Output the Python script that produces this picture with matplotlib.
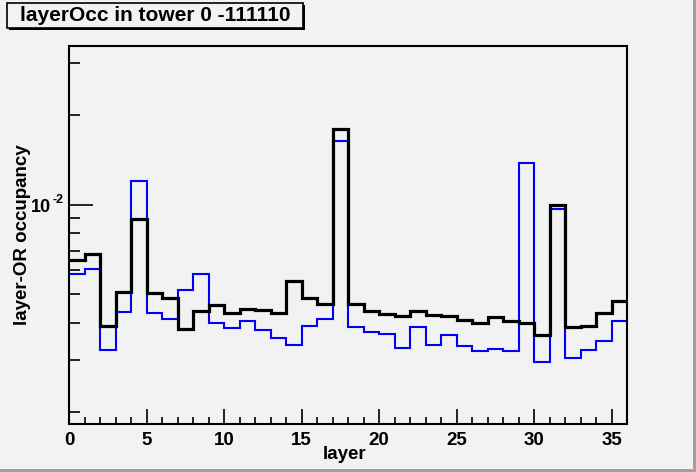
import matplotlib
matplotlib.use("Agg")
import matplotlib.pyplot as plt
from matplotlib.patches import Rectangle
from matplotlib.ticker import FixedLocator, NullFormatter, MultipleLocator
import numpy as np

plt.rcParams['font.family'] = ['Liberation Sans', 'DejaVu Sans']
plt.rcParams['font.weight'] = 'bold'

title = "layerOcc in tower 0 -111110"
x_label = "layer"
y_label = "layer-OR occupancy"

edges = np.arange(0, 37)

# layer-OR occupancy per layer (black: all, blue: second set)
occ_black = [6.50e-3, 6.80e-3, 3.89e-3, 5.07e-3, 8.94e-3, 5.02e-3, 4.83e-3, 3.82e-3,
             4.39e-3, 4.59e-3, 4.31e-3, 4.45e-3, 4.41e-3, 4.31e-3, 5.53e-3, 4.83e-3,
             4.62e-3, 1.79e-2, 4.62e-3, 4.38e-3, 4.28e-3, 4.20e-3, 4.38e-3, 4.25e-3,
             4.20e-3, 4.09e-3, 3.99e-3, 4.17e-3, 4.05e-3, 4.00e-3, 3.64e-3, 1.00e-2,
             3.86e-3, 3.89e-3, 4.31e-3, 4.72e-3]
occ_blue = [5.82e-3, 6.07e-3, 3.25e-3, 4.36e-3, 1.20e-2, 4.31e-3, 4.13e-3, 5.15e-3,
            5.85e-3, 4.00e-3, 3.85e-3, 4.06e-3, 3.79e-3, 3.56e-3, 3.37e-3, 3.90e-3,
            4.12e-3, 1.64e-2, 3.88e-3, 3.73e-3, 3.67e-3, 3.30e-3, 3.87e-3, 3.36e-3,
            3.64e-3, 3.34e-3, 3.22e-3, 3.27e-3, 3.22e-3, 1.38e-2, 2.95e-3, 9.63e-3,
            3.05e-3, 3.24e-3, 3.48e-3, 4.06e-3]

bg = '#f2f2f2'
fig = plt.figure(figsize=(6.96, 4.72), dpi=100, facecolor=bg)
ax = fig.add_axes([69/696, 1 - 424/472, 558/696, 378/472])
ax.set_facecolor(bg)

ax.stairs(occ_blue, edges, color='#0000ff', linewidth=1.5, baseline=None)
ax.stairs(occ_black, edges, color='black', linewidth=2.3, baseline=None)

ax.set_yscale('log')
ax.set_xlim(0, 36)
ax.set_ylim(1.824e-3, 3.42e-2)

ax.xaxis.set_major_locator(MultipleLocator(5))
ax.xaxis.set_minor_locator(MultipleLocator(1))
ax.yaxis.set_major_locator(FixedLocator([1e-2]))
ax.yaxis.set_minor_locator(FixedLocator([k * 1e-3 for k in range(2, 10)] + [2e-2, 3e-2]))
ax.yaxis.set_minor_formatter(NullFormatter())
ax.set_yticklabels([''])

ax.tick_params(which='both', direction='in', top=False, right=False, width=1.2,
               labelsize=13.5, color='black')
ax.tick_params(axis='x', which='major', length=11, pad=6)
ax.tick_params(axis='x', which='minor', length=5)
ax.tick_params(axis='y', which='major', length=17, pad=2)
ax.tick_params(axis='y', which='minor', length=8)
for lab in ax.get_xticklabels():
    lab.set_fontweight('bold')

# 10^-2 label drawn by hand, ROOT style
fig.text(51.5/696, 1 - 207/472, "10", ha='right', va='center', fontsize=13, fontweight='bold')
fig.text(52/696, 1 - 200/472, "-2", ha='left', va='center', fontsize=9, fontweight='bold')

for s in ax.spines.values():
    s.set_linewidth(1.5)

ax.set_xlabel(x_label, fontsize=13.5, fontweight='bold')
ax.xaxis.set_label_coords((345 - 69) / 558, -(446 - 424) / 378)
ax.set_ylabel(y_label, fontsize=13.5, fontweight='bold')
ax.yaxis.set_label_coords(-(69 - 31.5) / 558, (424 - 235) / 378)

# title box with shadow
fig.patches.append(Rectangle((9/696, 1 - 30/472), 296/696, 25/472, transform=fig.transFigure,
                             facecolor='black', edgecolor='none'))
fig.patches.append(Rectangle((7/696, 1 - 28/472), 296/696, 25/472, transform=fig.transFigure,
                             facecolor=bg, edgecolor='black', linewidth=1.2))
fig.text(155/696, 1 - 15.5/472, title, ha='center', va='center', fontsize=15,
         fontweight='bold')

# canvas bevel
fig.patches.append(Rectangle((0, 0), 1, 3/472, transform=fig.transFigure,
                             facecolor='#a0a0a0', edgecolor='none'))
fig.patches.append(Rectangle((693/696, 0), 3/696, 1, transform=fig.transFigure,
                             facecolor='#a0a0a0', edgecolor='none'))

fig.savefig('out.png', dpi=100, facecolor=bg)
